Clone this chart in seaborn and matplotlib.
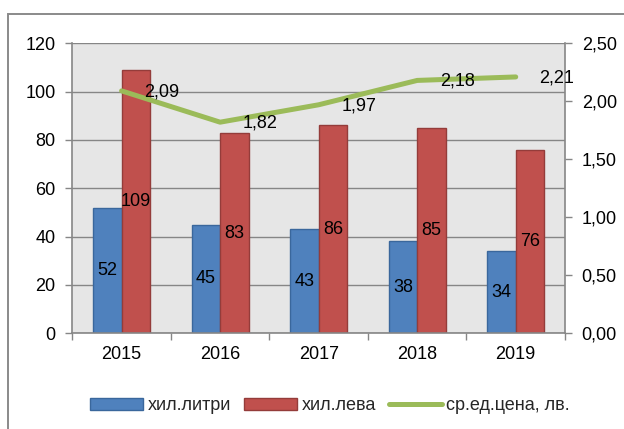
import numpy as np
import pandas as pd
import matplotlib
matplotlib.use("Agg")
import matplotlib.pyplot as plt
import seaborn as sns
from matplotlib.patches import Patch, Rectangle
from matplotlib.lines import Line2D
from matplotlib.ticker import FuncFormatter, FixedLocator

years = ["2015", "2016", "2017", "2018", "2019"]
litres = [52, 45, 43, 38, 34]
leva = [109, 83, 86, 85, 76]
price = [2.09, 1.82, 1.97, 2.18, 2.21]
series_names = ["хил.литри", "хил.лева", "ср.ед.цена, лв."]

sns.set_theme(style="white")
plt.rcParams["font.family"] = ["Liberation Sans", "DejaVu Sans"]
plt.rcParams["font.size"] = 13

blue, blue_edge = "#4F81BD", "#3A679C"
red, red_edge = "#C0504D", "#943C3A"
green = "#9BBB59"
gray = "#868686"

df = pd.DataFrame({
    "year": years * 2,
    "value": litres + leva,
    "series": [series_names[0]] * len(years) + [series_names[1]] * len(years),
})
dline = pd.DataFrame({"year": years, "price": price})

fig = plt.figure(figsize=(6.24, 4.29), dpi=100)
ax = fig.add_axes([72.3 / 624, 1 - 333.3 / 429, (565 - 72.3) / 624, (333.3 - 43.3) / 429])
ax.set_facecolor("#E6E6E6")

sns.barplot(data=df, x="year", y="value", hue="series", order=years,
            hue_order=series_names[:2],
            palette={series_names[0]: blue, series_names[1]: red},
            width=0.58, saturation=1, legend=False, ax=ax, zorder=2)
for cont, ec in zip(ax.containers, [blue_edge, red_edge]):
    for bar in cont:
        bar.set_edgecolor(ec)
        bar.set_linewidth(1.0)
    ax.bar_label(cont, label_type="center", fontsize=13, color="black")

ax.set_ylim(0, 120)
ax.set_xlim(-0.5, 4.5)
ax.set_yticks(np.arange(0, 121, 20))
ax.yaxis.grid(True, color=gray, linewidth=1.0, zorder=0)
ax.set_axisbelow(True)
ax.set_xlabel("")
ax.set_ylabel("")
ax.tick_params(axis="y", left=True, length=5, width=1, color=gray, pad=7, labelsize=13, labelcolor="black")
ax.tick_params(axis="x", which="major", length=0, pad=9, labelsize=13, labelcolor="black")
ax.xaxis.set_minor_locator(FixedLocator(np.arange(-0.5, 5, 1.0)))
ax.tick_params(axis="x", which="minor", bottom=True, length=5, width=1, color=gray)
for s in ["top", "right"]:
    ax.spines[s].set_visible(False)
for s in ["left", "bottom"]:
    ax.spines[s].set_color(gray)
    ax.spines[s].set_linewidth(1.2)

ax2 = ax.twinx()
sns.pointplot(data=dline, x="year", y="price", order=years, color=green,
              markers="", linewidth=3.6, ax=ax2)
for ln in ax2.lines:
    ln.set_solid_capstyle("round")
    ln.set_solid_joinstyle("round")
ax2.set_xlim(-0.5, 4.5)
ax2.set_ylim(0, 2.5)
ax2.set_yticks(np.arange(0, 2.51, 0.5))
ax2.yaxis.set_major_formatter(FuncFormatter(lambda v, p: f"{v:.2f}".replace(".", ",")))
ax2.set_ylabel("")
ax2.set_xlabel("")
ax2.tick_params(axis="y", right=True, length=5, width=1, color=gray, pad=7, labelsize=13, labelcolor="black")
for s in ["top", "left", "bottom"]:
    ax2.spines[s].set_visible(False)
ax2.spines["right"].set_color(gray)
ax2.spines["right"].set_linewidth(1.2)

for i, v in enumerate(price):
    ax2.annotate(f"{v:.2f}".replace(".", ","), xy=(i, v), xytext=(23, -1),
                 textcoords="offset pixels", ha="left", va="center", fontsize=13, color="black")

handles = [
    Patch(facecolor=blue, edgecolor=blue_edge, linewidth=1.0),
    Patch(facecolor=red, edgecolor=red_edge, linewidth=1.0),
    Line2D([0], [0], color=green, linewidth=3.6, solid_capstyle="round"),
]
fig.legend(handles, series_names, loc="center", bbox_to_anchor=(0.529, 0.054),
           ncol=3, frameon=False, fontsize=13, handlelength=2.95, handleheight=0.7,
           handletextpad=0.25, columnspacing=0.7, borderpad=0)

fig.patches.append(Rectangle((8 / 624, -0.05), 1.1, 0.05 + 1 - 14 / 429, transform=fig.transFigure,
                             fill=False, edgecolor="#8A8A8A", linewidth=1.4, zorder=-1))

fig.savefig("out.png", dpi=100)
